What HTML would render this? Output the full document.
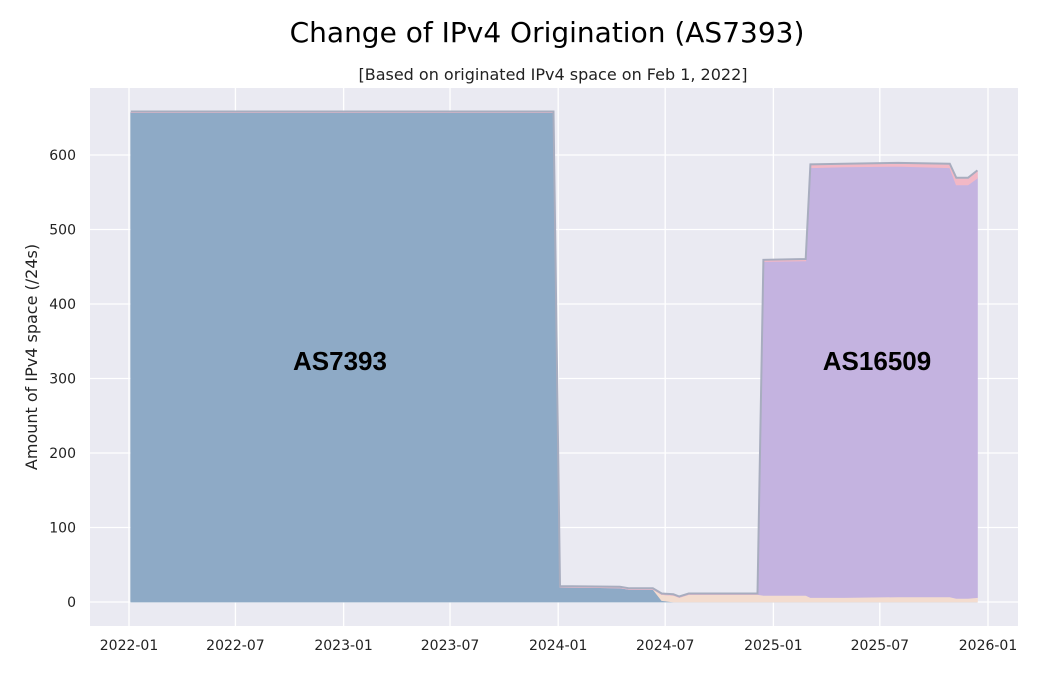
<!DOCTYPE html>
<html><head><meta charset="utf-8"><style>
body{margin:0;background:#fff;font-family:"Liberation Sans","DejaVu Sans",sans-serif}
</style></head><body>
<svg width="1051" height="671" xmlns="http://www.w3.org/2000/svg">
<text x="547" y="42" text-anchor="middle" font-size="28" font-family="DejaVu Sans,sans-serif">Change of IPv4 Origination (AS7393)</text>
<text x="553" y="80" text-anchor="middle" font-size="16" fill="#222" font-family="DejaVu Sans,sans-serif">[Based on originated IPv4 space on Feb 1, 2022]</text>
<rect x="90" y="88" width="928" height="538" fill="#eaeaf2"/>
<g id="grid"></g>
<g id="marks"></g>
<g id="axes" font-size="14" fill="#222" font-family="DejaVu Sans,sans-serif"></g>
<text transform="translate(37,357) rotate(-90)" text-anchor="middle" font-size="16" fill="#222" font-family="DejaVu Sans,sans-serif">Amount of IPv4 space (/24s)</text>
<text x="340" y="370" text-anchor="middle" font-size="26" font-weight="bold">AS7393</text>
<text x="877" y="370" text-anchor="middle" font-size="26" font-weight="bold">AS16509</text>
</svg>
<script>
const dates=["2022-01-04","2023-12-24","2024-01-04","2024-04-15","2024-05-01","2024-06-10","2024-06-25","2024-07-15","2024-07-25","2024-08-10","2024-12-05","2024-12-15","2025-02-25","2025-03-05","2025-05-01","2025-08-01","2025-10-28","2025-11-08","2025-11-28","2025-12-14"];
const as7393=[657,657,20,19,17,17,2,0,0,0,0,0,0,0,0,0,0,0,0,0];
const other=[0,0,0,0,0,0,8,9,6,10,10,9,9,6,6,7,7,5,5,6];
const as16509=[0,0,0,0,0,0,0,0,0,0,0,448,449,577,578,578,576,555,555,563];
const pinkTop=[0,0,0,0,0,0,0,0,0,0,0,1,1,3,3,3,4,8,8,9];
const yTicks=[0,100,200,300,400,500,600];
const xTicks=["2022-01","2022-07","2023-01","2023-07","2024-01","2024-07","2025-01","2025-07","2026-01"];
const NS="http://www.w3.org/2000/svg";
const t0=Date.UTC(2022,0,1);
function xs(d){const p=d.split("-");const t=Date.UTC(+p[0],+p[1]-1,p[2]?+p[2]:1);return 129+(t-t0)/86400000*(859/1461);}
function ys(v){return 602-v*0.745;}
const grid=document.getElementById("grid"),marks=document.getElementById("marks"),axes=document.getElementById("axes");
yTicks.forEach(v=>{const l=document.createElementNS(NS,"line");l.setAttribute("x1",90);l.setAttribute("x2",1018);l.setAttribute("y1",ys(v));l.setAttribute("y2",ys(v));l.setAttribute("stroke","#fff");l.setAttribute("stroke-width","1.3");


grid.appendChild(l);
const t=document.createElementNS(NS,"text");t.setAttribute("x",76);t.setAttribute("y",ys(v)+5);t.setAttribute("text-anchor","end");t.textContent=v;


axes.appendChild(t);});
xTicks.forEach(d=>{const x=xs(d);const l=document.createElementNS(NS,"line");l.setAttribute("x1",x);l.setAttribute("x2",x);l.setAttribute("y1",88);l.setAttribute("y2",626);l.setAttribute("stroke","#fff");l.setAttribute("stroke-width","1.3");


grid.appendChild(l);
const t=document.createElementNS(NS,"text");t.setAttribute("x",x);t.setAttribute("y",650);t.setAttribute("text-anchor","middle");t.textContent=d;


axes.appendChild(t);});
const layers=[[as7393,"#8eaac6","area-as7393"],[other,"#f3dccf","area-other"],[as16509,"#c4b3e0","area-as16509"],[pinkTop,"#f2b8c6","area-other-top"]];
let base=dates.map(()=>0);
layers.forEach(([vals,col,name])=>{const top=base.map((b,i)=>b+vals[i]);
let d="M"+dates.map((dt,i)=>xs(dt).toFixed(1)+","+ys(top[i]).toFixed(1)).join("L");
for(let i=dates.length-1;i>=0;i--)d+="L"+xs(dates[i]).toFixed(1)+","+ys(base[i]).toFixed(1);d+="Z";
const p=document.createElementNS(NS,"path");p.setAttribute("d",d);p.setAttribute("fill",col);p.setAttribute("stroke",col);p.setAttribute("stroke-width","0.8");


marks.appendChild(p);base=top;});
const tl=document.createElementNS(NS,"path");tl.setAttribute("d","M"+dates.map((dt,i)=>xs(dt).toFixed(1)+","+(ys(base[i])-1).toFixed(1)).join("L"));tl.setAttribute("fill","none");tl.setAttribute("stroke","#a8adbf");tl.setAttribute("stroke-width","2");


marks.appendChild(tl);
</script>
</body></html>
